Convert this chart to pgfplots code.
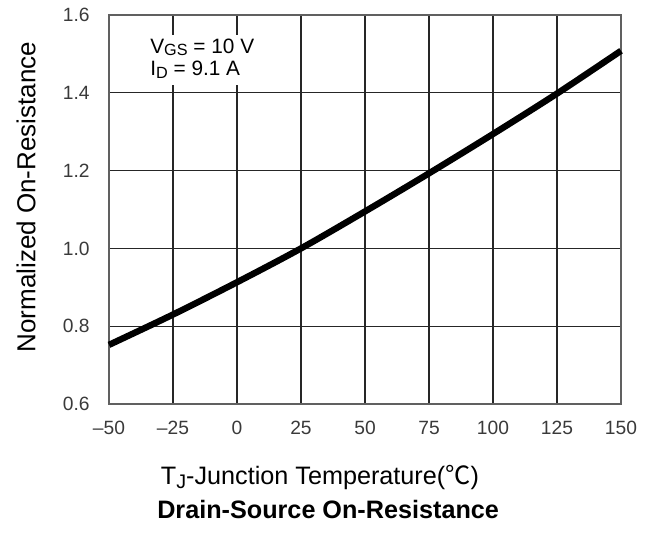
\documentclass[border=0pt]{standalone}
\usepackage{fontspec}
\setmainfont{Liberation Sans}
\newfontfamily\cjk{Noto Sans CJK SC}
\usepackage{graphicx}
\usepackage{pgfplots}
\pgfplotsset{compat=1.18}
\definecolor{bordergray}{HTML}{606060}
\definecolor{ticktext}{HTML}{3A3A3A}
\newcommand{\sub}[1]{\raisebox{-0.25ex}{\scalebox{0.78}{#1}}}
\begin{document}
\begin{tikzpicture}
\begin{axis}[
  scale only axis,
  width=256pt, height=194.5pt,
  xmin=-50, xmax=150, ymin=0.6, ymax=1.6,
  xtick={-50,-25,0,25,50,75,100,125,150},
  xticklabels={\textendash50,\textendash25,0,25,50,75,100,125,150},
  ytick={0.6,0.8,1.0,1.2,1.4,1.6},
  yticklabels={0.6,0.8,1.0,1.2,1.4,1.6},
  major tick length=0pt,
  grid=major,
  grid style={draw=black!85, line width=0.6pt},
  axis line style={draw=bordergray, line width=0.9pt},
  tick label style={font=\fontsize{9.6}{11}\selectfont, text=ticktext},
  xticklabel style={inner sep=0pt, anchor=north, yshift=-8.5pt},
  yticklabel style={inner sep=0pt, anchor=east, xshift=-9.5pt},
  xlabel={T\sub{J}-Junction Temperature({\cjk ℃})},
  ylabel={Normalized On-Resistance},
  xlabel style={font=\fontsize{12.6}{14}\selectfont, at={(axis description cs:0.412,-0.208)}, anchor=base},
  ylabel style={font=\fontsize{13}{15}\selectfont, at={(axis description cs:-0.162,0.532)}, anchor=center},
  clip=false,
]
\addplot[black, line width=3.2pt, smooth] coordinates {
  (-50,0.752) (-25,0.830) (0,0.913) (25,1.000) (50,1.095)
  (75,1.193) (100,1.294) (125,1.398) (150,1.508)
};
\fill[white] (axis cs:-35.5,1.5486) rectangle (axis cs:8.2,1.4200);
\node[anchor=base west, inner sep=0pt, font=\fontsize{10.4}{12}\selectfont] at (axis cs:-34,1.5020) {V\sub{GS} = 10 V};
\node[anchor=base west, inner sep=0pt, font=\fontsize{10.4}{12}\selectfont] at (axis cs:-34,1.4440) {I\sub{D} = 9.1 A};
\node[anchor=base, inner sep=0pt, font=\bfseries\fontsize{12.6}{14}\selectfont] at (axis description cs:0.428,-0.2956) {Drain-Source On-Resistance};
\end{axis}
\path (-54.5pt,-65pt) rectangle (271.5pt,202pt);
\end{tikzpicture}
\end{document}
